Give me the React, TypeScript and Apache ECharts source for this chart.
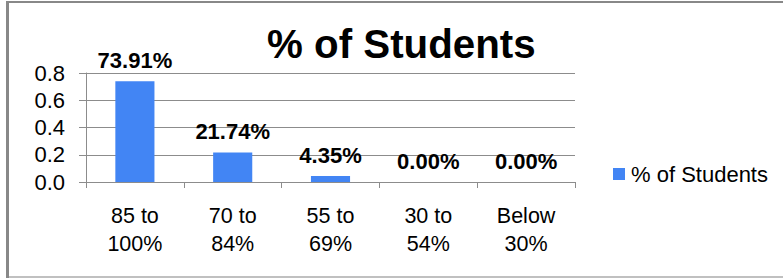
import React, { useEffect, useRef } from "react";
import * as echarts from "echarts";

const categories = ["85 to\n100%", "70 to\n84%", "55 to\n69%", "30 to\n54%", "Below\n30%"];
const values = [0.7391, 0.2174, 0.0435, 0, 0];
const valueLabels = ["73.91%", "21.74%", "4.35%", "0.00%", "0.00%"];
const seriesName = "% of Students";
const titleText = "% of Students";

const FONT = "Arial, 'Liberation Sans', sans-serif";

export default function App() {
  const ref = useRef<HTMLDivElement>(null);
  useEffect(() => {
    if (!ref.current) return;
    const chart = echarts.init(ref.current, undefined, { renderer: "svg" });
    chart.setOption({
      animation: false,
      backgroundColor: "#fff",
      textStyle: { fontFamily: FONT },
      grid: { left: 86, right: 208, top: 73, bottom: 96, containLabel: false },
      legend: {
        orient: "vertical",
        left: 613,
        top: 163,
        padding: 0,
        itemWidth: 12,
        itemHeight: 12,
        itemGap: 5,
        icon: "rect",
        textStyle: { fontSize: 22, color: "#000", fontFamily: FONT, padding: [0, 0, 0, 1] },
        data: [seriesName],
      },
      xAxis: {
        type: "category",
        data: categories,
        boundaryGap: true,
        axisLine: { show: true, lineStyle: { color: "#8c8c8c", width: 1 } },
        axisTick: { show: true, length: 6, lineStyle: { color: "#8c8c8c" } },
        axisLabel: {
          interval: 0,
          margin: 20,
          fontSize: 21.5,
          lineHeight: 28,
          color: "#000",
          fontFamily: FONT,
        },
        splitLine: { show: false },
      },
      yAxis: {
        type: "value",
        min: 0,
        max: 0.8,
        interval: 0.2,
        axisLine: { show: true, lineStyle: { color: "#8c8c8c", width: 1 } },
        axisTick: { show: true, length: 7, lineStyle: { color: "#8c8c8c" } },
        axisLabel: {
          margin: 21,
          fontSize: 22,
          color: "#000",
          fontFamily: FONT,
          formatter: (v: number) => v.toFixed(1),
        },
        splitLine: { show: true, lineStyle: { color: "#8c8c8c", width: 1 } },
      },
      series: [
        {
          name: seriesName,
          type: "bar",
          data: values,
          barWidth: "40%",
          itemStyle: { color: "#4285F4" },
          label: {
            show: true,
            position: "top",
            distance: 10,
            fontSize: 22,
            fontWeight: "bold",
            color: "#000",
            fontFamily: FONT,
            formatter: (p: any) => valueLabels[p.dataIndex],
          },
        },
      ],
      graphic: [
        {
          type: "text",
          left: 267,
          top: 24,
          style: {
            text: titleText,
            fontSize: 40.3,
            fontWeight: "bold",
            fill: "#000",
            fontFamily: FONT,
          },
        },
        { type: "rect", shape: { x: 7, y: 1, width: 776, height: 2 }, style: { fill: "#888" } },
        { type: "rect", shape: { x: 6, y: 1, width: 3, height: 277 }, style: { fill: "#888" } },
        { type: "rect", shape: { x: 9, y: 276, width: 774, height: 2 }, style: { fill: "#c0c0c0" } },
      ],
    });
    return () => chart.dispose();
  }, []);
  return (
    <div
      ref={ref}
      style={{ position: "absolute", left: 0, top: 0, width: 783, height: 278 }}
    />
  );
}
